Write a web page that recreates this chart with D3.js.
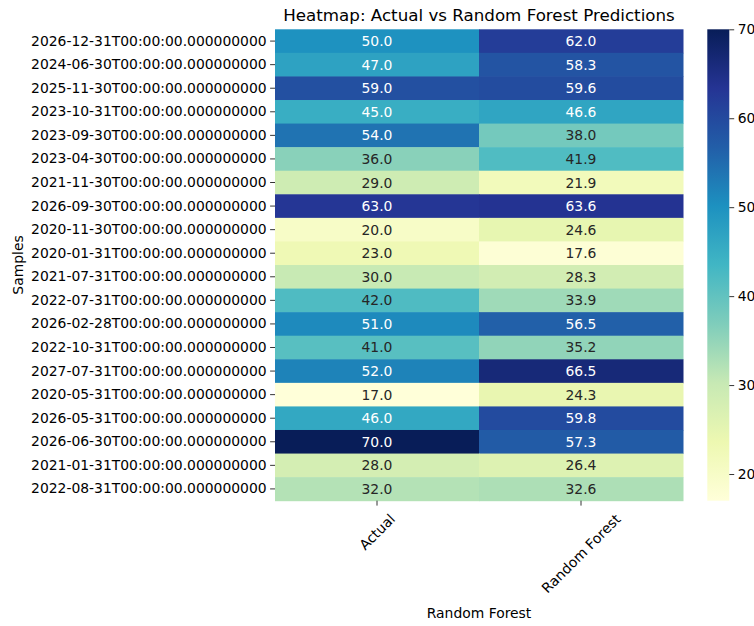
<!DOCTYPE html>
<html>
<head>
<meta charset="utf-8">
<script src="https://cdn.jsdelivr.net/npm/d3@7"></script>
<style>
  html, body { margin: 0; padding: 0; background: #fff; }
  svg { display: block; font-family: "DejaVu Sans", sans-serif; }
</style>
</head>
<body>
<svg id="chart" width="754" height="626"></svg>
<script>
const samples = [
  "2026-12-31T00:00:00.000000000",
  "2024-06-30T00:00:00.000000000",
  "2025-11-30T00:00:00.000000000",
  "2023-10-31T00:00:00.000000000",
  "2023-09-30T00:00:00.000000000",
  "2023-04-30T00:00:00.000000000",
  "2021-11-30T00:00:00.000000000",
  "2026-09-30T00:00:00.000000000",
  "2020-11-30T00:00:00.000000000",
  "2020-01-31T00:00:00.000000000",
  "2021-07-31T00:00:00.000000000",
  "2022-07-31T00:00:00.000000000",
  "2026-02-28T00:00:00.000000000",
  "2022-10-31T00:00:00.000000000",
  "2027-07-31T00:00:00.000000000",
  "2020-05-31T00:00:00.000000000",
  "2026-05-31T00:00:00.000000000",
  "2026-06-30T00:00:00.000000000",
  "2021-01-31T00:00:00.000000000",
  "2022-08-31T00:00:00.000000000"
];
const columns = ["Actual", "Random Forest"];
const actualValues = [50.0, 47.0, 59.0, 45.0, 54.0, 36.0, 29.0, 63.0, 20.0, 23.0, 30.0, 42.0, 51.0, 41.0, 52.0, 17.0, 46.0, 70.0, 28.0, 32.0];
const rfValues     = [62.0, 58.3, 59.6, 46.6, 38.0, 41.9, 21.9, 63.6, 24.6, 17.6, 28.3, 33.9, 56.5, 35.2, 66.5, 24.3, 59.8, 57.3, 26.4, 32.6];
const colorbarTicks = [20, 30, 40, 50, 60, 70];
const titleText = "Heatmap: Actual vs Random Forest Predictions";
const xLabelText = "Random Forest";
const yLabelText = "Samples";
const ylgnbu = ["#ffffd9", "#edf8b1", "#c7e9b4", "#7fcdbb", "#41b6c4", "#1d91c0", "#225ea8", "#253494", "#081d58"];

const series = [actualValues, rfValues];
const cells = [];
samples.forEach((s, i) => columns.forEach((c, j) => cells.push({ s, c, v: series[j][i] })));

const vmin = d3.min(cells, d => d.v), vmax = d3.max(cells, d => d.v);

const svg = d3.select("#chart");
const FS = 13.9;
const plot = { left: 275, right: 683, top: 29.3, bottom: 500.7 };

const x = d3.scaleBand().domain(columns).range([plot.left, plot.right]).padding(0);
const y = d3.scaleBand().domain(samples).range([plot.top, plot.bottom]).padding(0);
const color = d3.scaleLinear()
  .domain(ylgnbu.map((_, i) => vmin + (vmax - vmin) * i / (ylgnbu.length - 1)))
  .range(ylgnbu)
  .interpolate(d3.interpolateRgb)
  .clamp(true);

function luminance(col) {
  const c = d3.rgb(col);
  const f = v => { v /= 255; return v <= 0.03928 ? v / 12.92 : Math.pow((v + 0.055) / 1.055, 2.4); };
  return 0.2126 * f(c.r) + 0.7152 * f(c.g) + 0.0722 * f(c.b);
}

// cells
svg.append("g").selectAll("rect").data(cells).join("rect")
  .attr("x", d => x(d.c))
  .attr("y", d => y(d.s))
  .attr("width", x.bandwidth() + 0.5)
  .attr("height", y.bandwidth() + 0.5)
  .attr("fill", d => color(d.v));

// annotations
svg.append("g").selectAll("text").data(cells).join("text")
  .attr("x", d => x(d.c) + x.bandwidth() / 2)
  .attr("y", d => y(d.s) + y.bandwidth() / 2)
  .attr("text-anchor", "middle")
  .attr("dominant-baseline", "central")
  .attr("font-size", FS)
  .attr("fill", d => luminance(color(d.v)) > 0.408 ? "#262626" : "#ffffff")
  .text(d => d.v.toFixed(1));

// y axis
const yAxis = d3.axisLeft(y).tickSize(4.9).tickPadding(3.5);
const gy = svg.append("g").attr("transform", `translate(${plot.left},0)`).call(yAxis);
gy.select(".domain").remove();
gy.selectAll(".tick line").attr("stroke", "#000").attr("stroke-width", 0.8);
gy.selectAll(".tick text").attr("font-size", FS).attr("fill", "#000").attr("font-family", "DejaVu Sans");

// x axis
const xAxis = d3.axisBottom(x).tickSize(4.9).tickFormat("");
const gx = svg.append("g").attr("transform", `translate(0,${plot.bottom})`).call(xAxis);
gx.select(".domain").remove();
gx.selectAll(".tick line").attr("stroke", "#000").attr("stroke-width", 0.8);

const xLabels = svg.append("g").selectAll("text").data(columns).join("text")
  .attr("font-size", FS)
  .attr("fill", "#000")
  .attr("text-anchor", "middle")
  .attr("dominant-baseline", "central")
  .text(d => d);
xLabels.each(function (d) {
  const L = this.getComputedTextLength();
  const h = FS * 1.17;
  const half = (L + h) / Math.SQRT2 / 2;
  const cx = x(d) + x.bandwidth() / 2;
  const cy = plot.bottom + 4.9 + 5.2 + half;
  d3.select(this).attr("transform", `translate(${cx},${cy}) rotate(-45)`);
});

// title
svg.append("text")
  .attr("x", (plot.left + plot.right) / 2)
  .attr("y", 21)
  .attr("text-anchor", "middle")
  .attr("font-size", 16.7)
  .attr("fill", "#000")
  .text(titleText);

// axis labels
svg.append("text")
  .attr("x", (plot.left + plot.right) / 2)
  .attr("y", 618)
  .attr("text-anchor", "middle")
  .attr("font-size", FS)
  .attr("fill", "#000")
  .text(xLabelText);

svg.append("text")
  .attr("transform", `translate(23,${(plot.top + plot.bottom) / 2}) rotate(-90)`)
  .attr("text-anchor", "middle")
  .attr("font-size", FS)
  .attr("fill", "#000")
  .text(yLabelText);

// colorbar
const cb = { left: 707.3, right: 729.3, top: 29.3, bottom: 500.7 };
const defs = svg.append("defs");
const grad = defs.append("linearGradient").attr("id", "cbgrad")
  .attr("x1", 0).attr("y1", 1).attr("x2", 0).attr("y2", 0);
ylgnbu.forEach((c, i) => grad.append("stop").attr("offset", i / (ylgnbu.length - 1)).attr("stop-color", c));
svg.append("rect")
  .attr("x", cb.left).attr("y", cb.top)
  .attr("width", cb.right - cb.left).attr("height", cb.bottom - cb.top)
  .attr("fill", "url(#cbgrad)");
const cbScale = d3.scaleLinear().domain([vmin, vmax]).range([cb.bottom, cb.top]);
const cbAxis = d3.axisRight(cbScale).tickValues(colorbarTicks).tickSize(4.9).tickPadding(3.5).tickFormat(d3.format("d"));
const gcb = svg.append("g").attr("transform", `translate(${cb.right},0)`).call(cbAxis);
gcb.select(".domain").remove();
gcb.selectAll(".tick line").attr("stroke", "#000").attr("stroke-width", 0.8);
gcb.selectAll(".tick text").attr("font-size", FS).attr("fill", "#000").attr("font-family", "DejaVu Sans");
</script>
</body>
</html>
